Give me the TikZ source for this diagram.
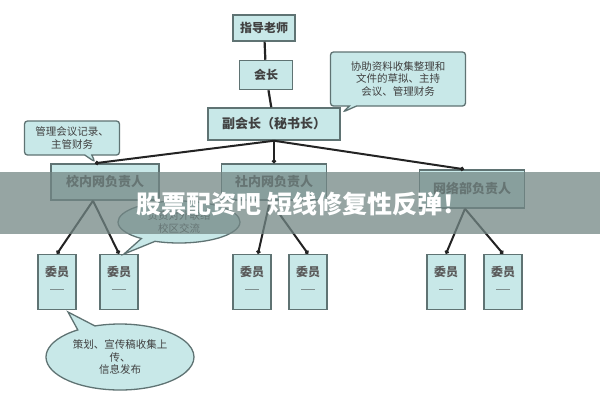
\documentclass[tikz,border=0pt]{standalone}
\usepackage{fontspec}
\setmainfont{Noto Sans CJK SC}
\usetikzlibrary{shapes.callouts,shapes.geometric,arrows.meta,calc}
\definecolor{boxfill}{RGB}{200,232,232}
\definecolor{boxdraw}{RGB}{95,115,115}
\definecolor{linedark}{RGB}{35,35,35}
\definecolor{bandcol}{RGB}{115,135,133}
\tikzset{
  orgbox/.style={draw=boxdraw, line width=1.5pt, fill=boxfill, inner sep=0pt, font=\fontsize{13}{15}\selectfont\bfseries, text=black!75},
  member/.style={draw=boxdraw, line width=1.5pt, fill=boxfill, minimum width=38pt, minimum height=55pt, inner sep=0pt},
  conn/.style={draw=linedark, line width=2pt, -{Circle[length=4pt]}},
  plain/.style={draw=linedark, line width=2.2pt},
  note/.style={draw=boxdraw, line width=1.3pt, fill=boxfill, font=\fontsize{10.5}{12.5}\selectfont, text=black!75, align=center}
}
\begin{document}
\begin{tikzpicture}[x=1pt,y=-1pt]
\useasboundingbox (0,0) rectangle (600,400);
\fill[white] (0,0) rectangle (600,400);
% top chain
\node[orgbox, minimum width=62pt, minimum height=26pt, font=\fontsize{12}{14}\selectfont\bfseries] (tut) at (264,28) {指导老师};
\node[orgbox, minimum width=53pt, minimum height=29pt, font=\fontsize{12}{14}\selectfont\bfseries] (pres) at (266,75) {会长};
\node[orgbox, minimum width=132pt, minimum height=32pt] (vice) at (274,124) {副会长（秘书长）};
\draw[plain] (tut) -- (pres);
\draw[plain] (pres) -- (vice);
% department heads
\node[orgbox, minimum width=108pt, minimum height=36pt] (h1) at (105,182) {校内网负责人};
\node[orgbox, minimum width=105pt, minimum height=36pt] (h2) at (274,182) {社内网负责人};
\node[orgbox, minimum width=105pt, minimum height=38pt] (h3) at (472,189) {网络部负责人};
\coordinate (vb) at (vice.south);
\coordinate (h1t) at ($(h1.north)+(-10,0)$);
\coordinate (h3t) at ($(h3.north)+(-8,0)$);
\draw[conn] (vb) -- (h1t);
\draw[conn] (vb) -- (h2.north);
\draw[conn] (vb) -- (h3t);
% members
\foreach \n/\x in {m1/57,m2/119,m3/252,m4/308,m5/446,m6/503}{
  \node[member] (\n) at (\x,282) {};
  \node[font=\fontsize{12}{13}\selectfont\bfseries, text=black!65] (\n t) at (\x,272) {委员};
  \draw[boxdraw!80, line width=1pt] (\x-7,289) -- (\x+7,289);
}
\coordinate (h1s) at ($(h1.south)+(-12,0)$);
\coordinate (h2s) at ($(h2.south)+(-4,0)$);
\coordinate (h3s) at ($(h3.south)+(-7,0)$);
\coordinate (m3t) at ($(m3.north)+(6,0)$);
\draw[conn] (h1s) -- (m1.north);
\draw[conn] (h1s) -- (m2.north);
\draw[conn] (h2s) -- (m3t);
\draw[conn] (h2s) -- (m4.north);
\draw[conn] (h3s) -- (m5.north);
\draw[conn] (h3s) -- (m6.north);
% callouts
\node[note, rectangle callout, rounded corners=3pt, minimum width=135pt, minimum height=54pt, inner sep=2pt,
  callout absolute pointer={(343,112)}] (c1) at (398,79) {协助资料收集整理和\\文件的草拟、主持\\会议、管理财务};
\node[note, rectangle callout, rounded corners=3pt, minimum width=95pt, minimum height=34pt, inner sep=2pt,
  callout absolute pointer={(95,162)}] (c2) at (72,138) {管理会议记录、\\主管财务};
\node[note, ellipse callout, minimum width=122pt, minimum height=42pt, inner sep=1pt,
  callout absolute pointer={(124,254)}] (c3) at (179,222) {负责对外联络\\校区交流};
\node[note, ellipse callout, minimum width=148pt, minimum height=66pt, inner sep=1pt,
  callout absolute pointer={(68,312)}] (c4) at (120,357) {策划、宣传稿收集上\\传、\\信息发布};
% overlay band
\fill[bandcol, opacity=0.75] (0,172) rectangle (600,234);
\node[text=white, font=\fontsize{25}{27}\selectfont\bfseries] (band) at (302,204) {股票配资吧 短线修复性反弹！};
\end{tikzpicture}
\end{document}
